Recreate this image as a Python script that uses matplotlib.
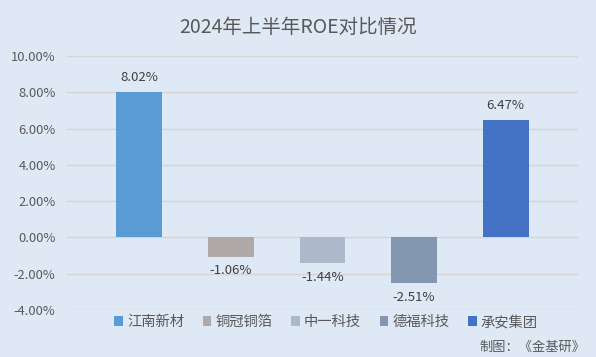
import matplotlib
matplotlib.use("Agg")
import matplotlib.pyplot as plt
from matplotlib.patches import Patch
from matplotlib.ticker import FuncFormatter

plt.rcParams['font.family'] = ['Noto Sans CJK SC', 'DejaVu Sans']

companies = ["江南新材", "铜冠铜箔", "中一科技", "德福科技", "承安集团"]
roe = [8.02, -1.06, -1.44, -2.51, 6.47]
colors = ["#5b9bd5", "#afaaa9", "#adb9ca", "#8497b0", "#4472c4"]
yticks = [-4, -2, 0, 2, 4, 6, 8, 10]

bg = "#dee9f5"
fig = plt.figure(figsize=(5.96, 3.57), dpi=100, facecolor=bg)
ax = fig.add_axes([0.112, 0.132, 0.858, 0.711], facecolor=bg)

x = range(len(companies))
ax.bar(x, roe, width=0.5, color=colors, zorder=3)

for xi, v in zip(x, roe):
    off = 0.78 if v > 0 else -0.78
    ax.text(xi, v + off, f"{v:.2f}%", ha="center", va="center",
            fontsize=9.5, color="#404040")

ax.set_ylim(-4, 10)
ax.set_xlim(-0.79, 4.79)
ax.set_yticks(yticks)
ax.yaxis.set_major_formatter(FuncFormatter(lambda v, p: f"{v:.2f}%"))
ax.set_xticks([])
ax.tick_params(axis="y", length=0, labelsize=9.3, labelcolor="#595959", pad=8)
ax.grid(axis="y", color="#d4d4d4", linewidth=1, zorder=0)
for s in ax.spines.values():
    s.set_visible(False)

fig.text(0.5, 0.922, "2024年上半年ROE对比情况", ha="center", va="center",
         fontsize=14, color="#595959")

handles = [Patch(facecolor=c, label=n) for c, n in zip(colors, companies)]
fig.legend(handles=handles, loc="center", bbox_to_anchor=(0.547, 0.098), ncol=5,
           frameon=False, fontsize=10.3, labelcolor="#595959", handlelength=0.6,
           handleheight=0.6, handletextpad=0.3, columnspacing=1.3)

fig.text(0.982, 0.026, "制图：《金基研》", ha="right", va="center",
         fontsize=9.5, color="#595959")

fig.savefig("out.png", dpi=100, facecolor=bg)
